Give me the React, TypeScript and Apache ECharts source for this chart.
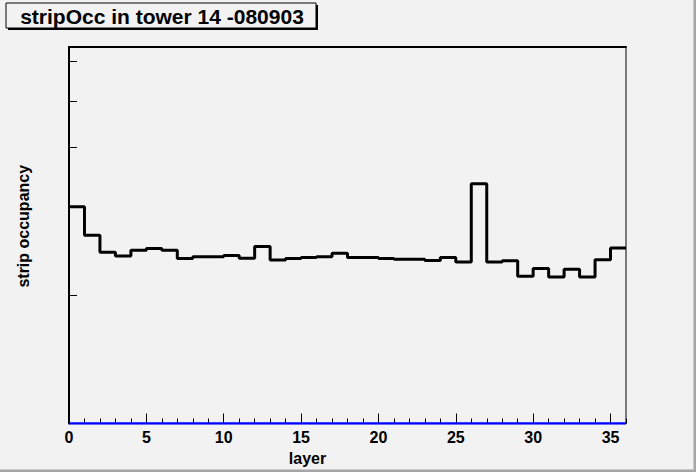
import React, { useEffect, useRef } from "react";
import * as echarts from "echarts";

// Histogram: strip occupancy per layer (36 bins, arbitrary units)
const layerEdges: number[] = Array.from({ length: 37 }, (_, i) => i);
const occupancy: number[] = [
  0.576, 0.5, 0.455, 0.445, 0.46, 0.465, 0.46, 0.438, 0.443, 0.443,
  0.446, 0.439, 0.47, 0.434, 0.438, 0.441, 0.443, 0.452, 0.441, 0.441,
  0.438, 0.436, 0.436, 0.433, 0.441, 0.429, 0.637, 0.429, 0.432, 0.391,
  0.412, 0.389, 0.41, 0.389, 0.435, 0.466,
];
const baseline: number[] = [0, 0];
const xMajorTicks: number[] = [0, 5, 10, 15, 20, 25, 30, 35];
const yTicks: number[] = [0.341, 0.733, 0.857, 0.962];

const titleText = "stripOcc in tower 14 -080903";
const xTitle = "layer";
const yTitle = "strip occupancy";

const FONT = "'Liberation Sans', Arial, Helvetica, sans-serif";
const BG = "#f2f2f2";

export default function App() {
  const ref = useRef<HTMLDivElement>(null);
  useEffect(() => {
    if (!ref.current) return;
    const chart = echarts.init(ref.current, undefined, { renderer: "svg" });

    const histPoints = layerEdges.map((x, i) => [
      x,
      occupancy[Math.min(i, occupancy.length - 1)],
    ]);
    const basePoints = [
      [layerEdges[0], baseline[0]],
      [layerEdges[layerEdges.length - 1], baseline[1]],
    ];

    chart.setOption({
      animation: false,
      backgroundColor: BG,
      grid: {
        left: 69,
        right: 70,
        top: 47,
        bottom: 48.5,
        show: true,
        borderColor: "#000",
        borderWidth: 1,
        backgroundColor: "transparent",
      },
      xAxis: [
        {
          type: "value",
          min: 0,
          max: 36,
          interval: 1,
          position: "bottom",
          name: xTitle,
          nameLocation: "middle",
          nameGap: 20,
          nameTextStyle: {
            fontFamily: FONT,
            fontWeight: "bold",
            fontSize: 16,
            color: "#000",
            padding: [0, 80, 0, 0],
          },
          axisLine: { show: true, onZero: false, lineStyle: { color: "#000", width: 1 } },
          axisTick: { show: true, inside: true, length: 5, lineStyle: { color: "#000", width: 1 } },
          axisLabel: {
            show: true,
            margin: 6,
            fontFamily: FONT,
            fontWeight: "bold",
            fontSize: 16,
            color: "#000",
            formatter: (v: number) => (xMajorTicks.includes(v) ? String(v) : ""),
          },
          splitLine: { show: false },
        },
        {
          type: "value",
          min: 0,
          max: 36,
          position: "bottom",
          axisLine: { show: false, onZero: false },
          axisTick: {
            show: true,
            inside: true,
            length: 10,
            customValues: xMajorTicks,
            lineStyle: { color: "#000", width: 1 },
          },
          axisLabel: { show: false },
          splitLine: { show: false },
        },
        {
          type: "value",
          min: 0,
          max: 36,
          position: "top",
          axisLine: { show: true, onZero: false, lineStyle: { color: "#000", width: 2 } },
          axisTick: { show: false },
          axisLabel: { show: false },
          splitLine: { show: false },
        },
      ],
      yAxis: [
        {
          type: "value",
          min: 0,
          max: 1,
          name: yTitle,
          nameLocation: "middle",
          nameGap: 38,
          nameTextStyle: {
            fontFamily: FONT,
            fontWeight: "bold",
            fontSize: 16,
            color: "#000",
            padding: [0, 0, 0, 18],
          },
          axisLine: { show: true, onZero: false, lineStyle: { color: "#000", width: 2 } },
          axisTick: {
            show: true,
            inside: true,
            length: 8,
            customValues: yTicks,
            lineStyle: { color: "#000", width: 1 },
          },
          axisLabel: { show: false },
          splitLine: { show: false },
        },
      ],
      series: [
        {
          type: "line",
          name: "stripOcc",
          xAxisIndex: 0,
          yAxisIndex: 0,
          step: "end",
          data: histPoints,
          showSymbol: false,
          symbol: "none",
          lineStyle: { color: "#000", width: 3 },
          z: 3,
        },
        {
          type: "line",
          name: "baseline",
          xAxisIndex: 0,
          yAxisIndex: 0,
          data: basePoints,
          showSymbol: false,
          symbol: "none",
          lineStyle: { color: "#0000ff", width: 2.5 },
          z: 4,
        },
      ],
      graphic: [
        { type: "rect", shape: { x: 8, y: 5, width: 310, height: 25 }, style: { fill: "#000" }, z: 10 },
        {
          type: "rect",
          shape: { x: 6, y: 3, width: 310, height: 25 },
          style: { fill: BG, stroke: "#000", lineWidth: 1 },
          z: 11,
        },
        {
          type: "text",
          x: 162,
          y: 16,
          z: 12,
          style: {
            text: titleText,
            fontFamily: FONT,
            fontWeight: "bold",
            fontSize: 21,
            fill: "#000",
            align: "center",
            verticalAlign: "middle",
          },
        },
        { type: "rect", shape: { x: 693.5, y: 0, width: 2.5, height: 472 }, style: { fill: "#a6a6a6" }, z: 10 },
        { type: "rect", shape: { x: 0, y: 469.5, width: 696, height: 2.5 }, style: { fill: "#a6a6a6" }, z: 10 },
      ],
    });
    return () => chart.dispose();
  }, []);
  return (
    <div
      ref={ref}
      style={{ position: "fixed", left: 0, top: 0, width: 696, height: 472 }}
    />
  );
}
